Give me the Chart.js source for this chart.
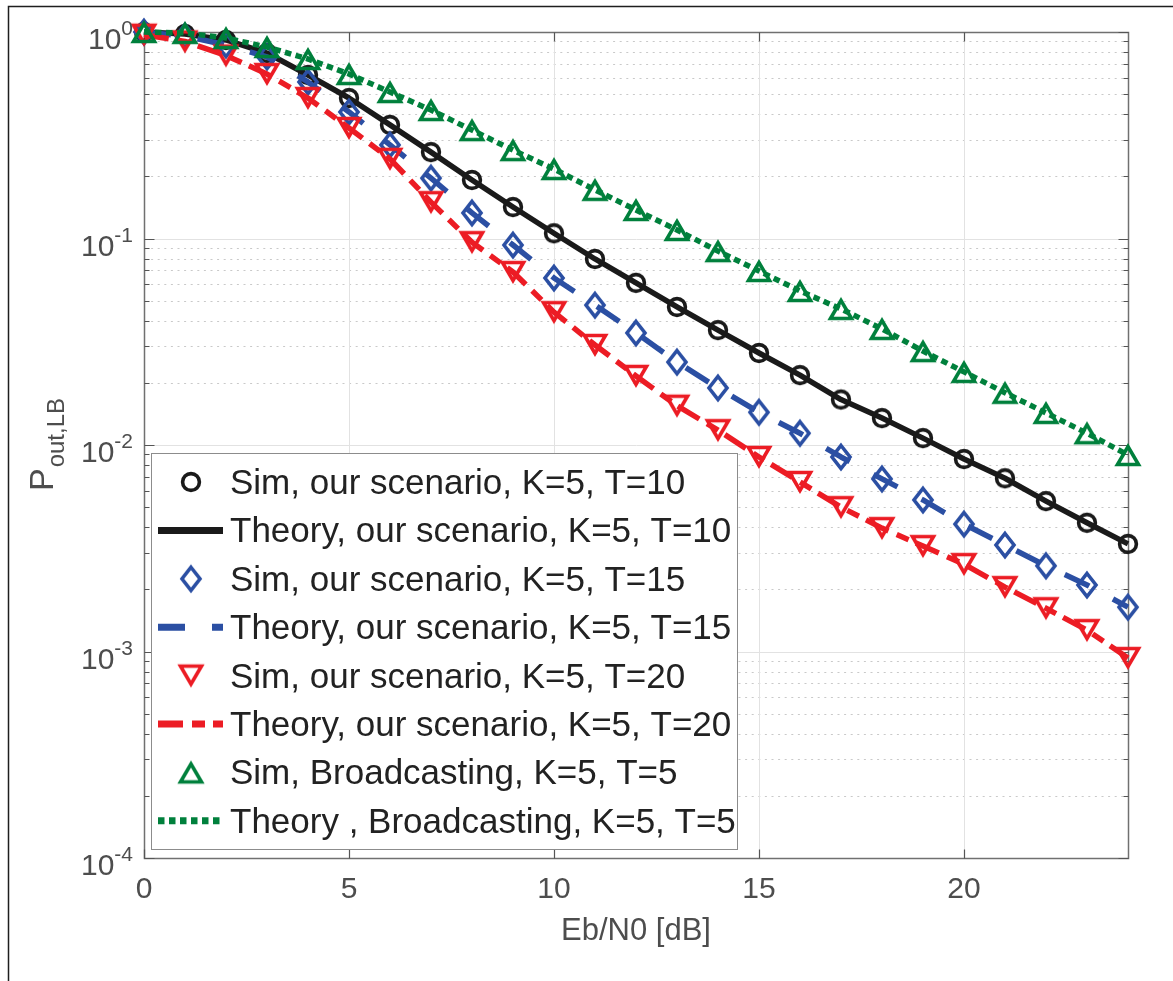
<!DOCTYPE html>
<html>
<head>
<meta charset="utf-8">
<title>Outage probability vs Eb/N0</title>
<script src="https://cdn.jsdelivr.net/npm/chart.js@4.4.0/dist/chart.umd.min.js"></script>
<style>
  html, body { margin: 0; padding: 0; background: #fff; }
  #wrap { position: relative; width: 1173px; height: 981px; overflow: hidden; }
</style>
</head>
<body>
<div id="wrap">
  <canvas id="chart" width="1173" height="981"></canvas>
</div>
<script>
// ---- data ----
const ebn0 = [0, 1, 2, 3, 4, 5, 6, 7, 8, 9, 10, 11, 12, 13, 14, 15, 16, 17, 18, 19, 20, 21, 22, 23, 24];

// our scenario, K=5, T=10
const pT10 = [1.0, 0.978, 0.915, 0.791, 0.619, 0.479, 0.355, 0.262, 0.192, 0.142, 0.106, 0.0796, 0.061,
              0.0466, 0.036, 0.0279, 0.0218, 0.0166, 0.0135, 0.0108, 0.00855, 0.0069, 0.00535, 0.0042, 0.00332];
// our scenario, K=5, T=15
const pT15 = [1.0, 0.956, 0.865, 0.757, 0.573, 0.41, 0.284, 0.196, 0.133, 0.093, 0.0644, 0.0476, 0.0349,
              0.0252, 0.0189, 0.0144, 0.0114, 0.00875, 0.00685, 0.00542, 0.00414, 0.00328, 0.0026, 0.0021, 0.00164];
// our scenario, K=5, T=20
const pT20 = [0.97, 0.9, 0.77, 0.626, 0.479, 0.343, 0.243, 0.15, 0.096, 0.0688, 0.044, 0.0305, 0.0216,
              0.0155, 0.0118, 0.00875, 0.00662, 0.005, 0.00396, 0.00324, 0.00265, 0.00205, 0.00162, 0.00127, 0.00093];
// broadcasting, K=5, T=5
const pBroad = [1.0, 0.99, 0.935, 0.846, 0.74, 0.626, 0.512, 0.419, 0.335, 0.268, 0.217, 0.172, 0.1375,
                0.11, 0.0869, 0.0696, 0.0557, 0.0456, 0.0365, 0.0285, 0.0226, 0.0179, 0.0143, 0.0114, 0.00895];

const xTicks = [0, 5, 10, 15, 20];
const yExponents = [0, -1, -2, -3, -4];

const legendLabels = [
  'Sim, our scenario, K=5, T=10',
  'Theory, our scenario, K=5, T=10',
  'Sim, our scenario, K=5, T=15',
  'Theory, our scenario, K=5, T=15',
  'Sim, our scenario, K=5, T=20',
  'Theory, our scenario, K=5, T=20',
  'Sim, Broadcasting, K=5, T=5',
  'Theory , Broadcasting, K=5, T=5'
];

const xTitle = 'Eb/N0 [dB]';
const yTitleMain = 'P';
const yTitleSub = 'out,LB';

// ---- styles ----
const FONT = '"Liberation Sans", Arial, Helvetica, sans-serif';
const font = px => px + 'px ' + FONT;
const BLACK = '#1a1a1a', BLUE = '#2b4fa3', RED = '#ec1c24', GREEN = '#00803c';
const AXIS_TEXT = '#4d4d4d';

function makeMarker(shape, color) {
  const c = document.createElement('canvas');
  c.width = 36; c.height = 36;
  const g = c.getContext('2d');
  g.translate(18, 18);
  g.strokeStyle = color;
  g.lineWidth = 3.6;
  g.lineJoin = 'miter';
  g.beginPath();
  if (shape === 'o') {
    g.arc(0, 0, 8.4, 0, Math.PI * 2);
  } else if (shape === 'd') {
    g.moveTo(0, -11.5); g.lineTo(9, 0); g.lineTo(0, 11.5); g.lineTo(-9, 0); g.closePath();
  } else if (shape === 'v') {
    g.moveTo(-10.5, -9.5); g.lineTo(10.5, -9.5); g.lineTo(0, 8.5); g.closePath();
  } else if (shape === '^') {
    g.moveTo(-10.5, 9.5); g.lineTo(10.5, 9.5); g.lineTo(0, -8.5); g.closePath();
  }
  g.stroke();
  return c;
}

const pts = arr => ebn0.map((x, i) => ({ x: x, y: arr[i] }));

function simSet(i, arr, color, shape) {
  return {
    label: legendLabels[i], data: pts(arr), showLine: false,
    pointStyle: makeMarker(shape, color), pointRadius: 10, pointHoverRadius: 10,
    borderColor: color, backgroundColor: 'transparent',
    order: 20 - i, clip: false, legendKind: 'marker'
  };
}
function theorySet(i, arr, color, dash) {
  return {
    label: legendLabels[i], data: pts(arr), showLine: true,
    borderColor: color, borderWidth: 5.5, borderDash: dash, borderJoinStyle: 'round',
    pointRadius: 0, pointHoverRadius: 0, fill: false, tension: 0,
    order: 20 - i, clip: false, legendKind: 'line'
  };
}

// ---- MATLAB-like axes, grid, labels and legend ----
const matlabAxes = {
  id: 'matlabAxes',
  beforeDraw(chart) {
    const { ctx, width, height } = chart;
    ctx.save();
    ctx.fillStyle = '#fff';
    ctx.fillRect(0, 0, width, height);
    // figure frame (left and top edges visible)
    ctx.strokeStyle = '#1e1e1e';
    ctx.lineWidth = 1.5;
    ctx.beginPath();
    ctx.moveTo(8.5, height); ctx.lineTo(8.5, 6.5); ctx.lineTo(width, 6.5);
    ctx.stroke();
    ctx.restore();
  },
  beforeDatasetsDraw(chart) {
    const { ctx, chartArea: a, scales: { x, y } } = chart;
    const L = Math.round(a.left) + 0.5, R = Math.round(a.right) + 0.5;
    const T = Math.round(a.top) + 0.5, B = Math.round(a.bottom) + 0.5;
    ctx.save();

    // minor y grid (dotted)
    ctx.strokeStyle = '#c9c9c9';
    ctx.lineWidth = 1;
    ctx.setLineDash([2, 4.6]);
    yExponents.slice(1).forEach(e => {
      for (let k = 2; k <= 9; k++) {
        const py = Math.round(y.getPixelForValue(k * Math.pow(10, e))) + 0.5;
        ctx.beginPath(); ctx.moveTo(L, py); ctx.lineTo(R, py); ctx.stroke();
      }
    });

    // major grid (solid)
    ctx.setLineDash([]);
    ctx.strokeStyle = '#e2e2e2';
    yExponents.slice(1, -1).forEach(e => {
      const py = Math.round(y.getPixelForValue(Math.pow(10, e))) + 0.5;
      ctx.beginPath(); ctx.moveTo(L, py); ctx.lineTo(R, py); ctx.stroke();
    });
    xTicks.slice(1).forEach(v => {
      const px = Math.round(x.getPixelForValue(v)) + 0.5;
      ctx.beginPath(); ctx.moveTo(px, T); ctx.lineTo(px, B); ctx.stroke();
    });

    // axes box
    ctx.strokeStyle = '#707070';
    ctx.lineWidth = 1.5;
    ctx.strokeRect(L, T, R - L, B - T);

    // tick marks (inward, both sides)
    ctx.lineWidth = 1.2;
    ctx.strokeStyle = '#555';
    ctx.beginPath();
    yExponents.forEach(e => {
      const py = Math.round(y.getPixelForValue(Math.pow(10, e))) + 0.5;
      ctx.moveTo(L, py); ctx.lineTo(L + 10, py);
      ctx.moveTo(R, py); ctx.lineTo(R - 10, py);
    });
    yExponents.slice(1).forEach(e => {
      for (let k = 2; k <= 9; k++) {
        const py = Math.round(y.getPixelForValue(k * Math.pow(10, e))) + 0.5;
        ctx.moveTo(L, py); ctx.lineTo(L + 5, py);
        ctx.moveTo(R, py); ctx.lineTo(R - 5, py);
      }
    });
    xTicks.forEach(v => {
      const px = Math.round(x.getPixelForValue(v)) + 0.5;
      ctx.moveTo(px, B); ctx.lineTo(px, B - 9);
      ctx.moveTo(px, T); ctx.lineTo(px, T + 9);
    });
    ctx.stroke();
    ctx.restore();
  },
  afterDraw(chart) {
    const { ctx, chartArea: a, scales: { x, y } } = chart;
    ctx.save();
    ctx.fillStyle = AXIS_TEXT;

    // x tick labels
    ctx.font = font(30);
    ctx.textAlign = 'center';
    ctx.textBaseline = 'alphabetic';
    xTicks.forEach(v => ctx.fillText(String(v), x.getPixelForValue(v), a.bottom + 40));

    // x title
    ctx.font = font(31);
    ctx.fillText(xTitle, (a.left + a.right) / 2, a.bottom + 82);

    // y tick labels 10^e
    ctx.textAlign = 'right';
    const rightEdge = a.left - 11;
    yExponents.forEach(e => {
      const py = y.getPixelForValue(Math.pow(10, e));
      const sup = String(e);
      ctx.font = font(21);
      const w = ctx.measureText(sup).width;
      ctx.fillText(sup, rightEdge, py + 3);
      ctx.font = font(30);
      ctx.fillText('10', rightEdge - w, py + 17);
    });

    // y title P_{out,LB}, rotated
    ctx.save();
    ctx.font = font(34);
    const wMain = ctx.measureText(yTitleMain).width;
    ctx.font = font(24);
    const wSub = ctx.measureText(yTitleSub).width;
    const cy = (a.top + a.bottom) / 2;
    ctx.translate(0, cy);
    ctx.rotate(-Math.PI / 2);
    ctx.textAlign = 'left';
    const start = -(wMain + wSub) / 2;
    ctx.font = font(34);
    ctx.fillText(yTitleMain, start, 53);
    ctx.font = font(24);
    ctx.fillText(yTitleSub, start + wMain + 1, 64);
    ctx.restore();

    // legend
    const box = { left: 151.5, top: 453.5, right: 737.5, bottom: 849.5 };
    ctx.fillStyle = '#fff';
    ctx.fillRect(box.left, box.top, box.right - box.left, box.bottom - box.top);
    ctx.strokeStyle = '#8c8c8c';
    ctx.lineWidth = 1;
    ctx.strokeRect(box.left, box.top, box.right - box.left, box.bottom - box.top);

    chart.data.datasets.forEach((ds, i) => {
      const cyRow = 482 + i * 48.4;
      if (ds.legendKind === 'marker') {
        const m = ds.pointStyle;
        ctx.drawImage(m, 191 - m.width / 2, cyRow - m.height / 2);
      } else {
        ctx.save();
        ctx.strokeStyle = ds.borderColor;
        ctx.lineWidth = ds.borderWidth + 1.5;
        ctx.setLineDash(ds.borderDash || []);
        ctx.beginPath();
        ctx.moveTo(158, cyRow); ctx.lineTo(223, cyRow);
        ctx.stroke();
        ctx.restore();
      }
      ctx.fillStyle = '#222';
      ctx.font = font(35);
      ctx.textAlign = 'left';
      ctx.fillText(ds.label, 230, cyRow + 12);
    });
    ctx.restore();
  }
};

new Chart(document.getElementById('chart'), {
  type: 'line',
  data: {
    datasets: [
      simSet(0, pT10, BLACK, 'o'),
      theorySet(1, pT10, BLACK, []),
      simSet(2, pT15, BLUE, 'd'),
      theorySet(3, pT15, BLUE, [27, 27]),
      simSet(4, pT20, RED, 'v'),
      theorySet(5, pT20, RED, [25, 9, 13, 8]),
      simSet(6, pBroad, GREEN, '^'),
      theorySet(7, pBroad, GREEN, [6.5, 4.5])
    ]
  },
  options: {
    responsive: false,
    animation: false,
    devicePixelRatio: 1,
    events: [],
    layout: { padding: { left: 144, top: 32, right: 45, bottom: 123 } },
    scales: {
      x: { type: 'linear', min: 0, max: 24, display: false },
      y: { type: 'logarithmic', min: 1e-4, max: 1, display: false }
    },
    plugins: {
      legend: { display: false },
      tooltip: { enabled: false }
    }
  },
  plugins: [matlabAxes]
});
</script>
</body>
</html>
